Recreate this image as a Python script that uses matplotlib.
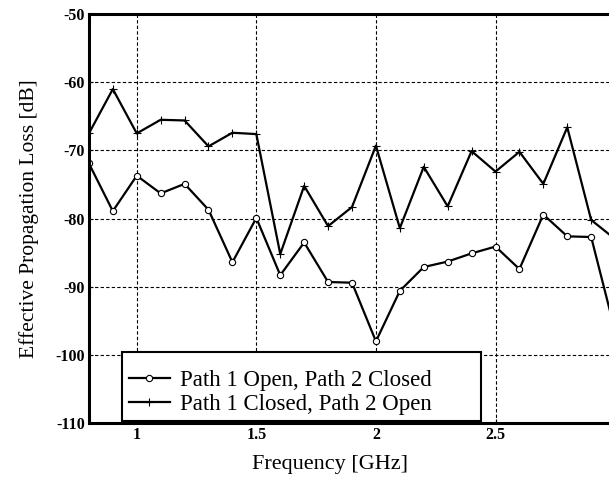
import numpy as np
import matplotlib
matplotlib.use('Agg')
import matplotlib.pyplot as plt
from matplotlib.patches import Rectangle

# frequency points [GHz]
freq = [0.8, 0.9, 1.0, 1.1, 1.2, 1.3, 1.4, 1.5, 1.6, 1.7, 1.8, 1.9,
        2.0, 2.1, 2.2, 2.3, 2.4, 2.5, 2.6, 2.7, 2.8, 2.9, 3.0]

# Path 1 open, path 2 closed
open_closed = [-71.9, -78.9, -73.7, -76.3, -74.9, -78.7, -86.4, -79.9, -88.3, -83.5, -89.3, -89.4,
               -98.0, -90.6, -87.1, -86.3, -85.1, -84.1, -87.4, -79.4, -82.6, -82.7, -96.5]

# Path 1 closed, path 2 open
closed_open = [-67.5, -61.0, -67.5, -65.5, -65.6, -69.4, -67.4, -67.6, -85.2, -75.2, -81.1, -78.3,
               -69.3, -81.4, -72.4, -78.2, -70.1, -73.1, -70.2, -74.9, -66.6, -80.2, -83.0]

xticks = [1, 1.5, 2, 2.5, 3]
xticklabels = ['1', '1.5', '2', '2.5', '3']
yticks = [-110, -100, -90, -80, -70, -60, -50]

plt.rcParams['font.family'] = ['Liberation Serif', 'DejaVu Serif']
plt.rcParams['axes.unicode_minus'] = False

fig = plt.figure(figsize=(6.09, 4.92), dpi=100)
ax = fig.add_axes([0.146, 0.140, 0.864, 0.8313])

ax.plot(freq, open_closed, color='black', lw=1.6, marker='o', ms=4.5,
        mfc='white', mec='black', mew=0.8, label='Path 1 Open, Path 2 Closed')
ax.plot(freq, closed_open, color='black', lw=1.6, marker='+', ms=6,
        mew=0.8, label='Path 1 Closed, Path 2 Open')

ax.set_xlim(0.8, 3.0)
ax.set_ylim(-110, -50)
ax.set_xticks(xticks)
ax.set_xticklabels(xticklabels)
ax.set_yticks(yticks)
ax.grid(True, color='black', ls=(0, (3, 2)), lw=0.8)
ax.tick_params(direction='in', length=3, labelsize=11.5, pad=3)
for lab in ax.get_xticklabels() + ax.get_yticklabels():
    lab.set_fontweight('bold')

for side in ['left', 'bottom', 'top', 'right']:
    ax.spines[side].set_linewidth(2.2)

ax.set_xlabel('Frequency [GHz]', fontsize=16)
ax.xaxis.set_label_coords(0.458, -0.078)
ax.set_ylabel('Effective Propagation Loss [dB]', fontsize=15.5, labelpad=12)

# legend box is wider/taller than its contents in the original
box = Rectangle((0.0627, 0.005), 0.6825, 0.169, transform=ax.transAxes,
                facecolor='white', edgecolor='black', lw=1.5, zorder=4.5)
ax.add_patch(box)
leg = ax.legend(loc='center left', bbox_to_anchor=(0.0627, 0.075), borderaxespad=0,
                fontsize=16.5, frameon=False, handlelength=1.8, borderpad=0.3,
                labelspacing=0.15, handletextpad=0.45)
leg.set_zorder(5)

fig.savefig('out.png', dpi=100)
